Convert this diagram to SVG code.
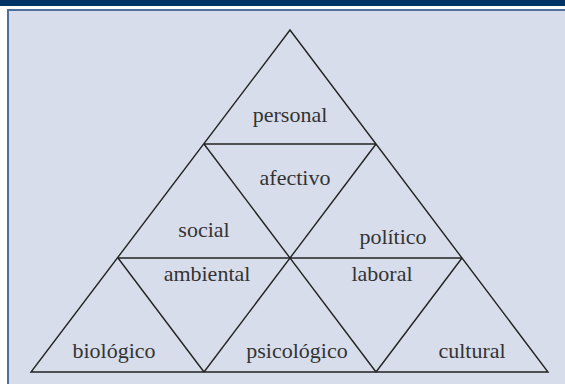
<svg xmlns="http://www.w3.org/2000/svg" width="565" height="384" viewBox="0 0 565 384">
  <style>
    .edge { fill: none; stroke: #222222; stroke-width: 1.4; stroke-linejoin: miter; }
    .label { font-family: "Liberation Serif", "DejaVu Serif", serif; font-size: 22px; fill: #333333; text-anchor: middle; }
  </style>

  <!-- page background, header bar and framed panel -->
  <rect x="0" y="0" width="565" height="384" fill="#ffffff"/>
  <rect x="0" y="0" width="565" height="6" fill="#003366"/>
  <rect x="8" y="10" width="570" height="380" fill="#d7ddeb" stroke="#4f6f9c" stroke-width="2"/>

  <!-- triangle edges -->
  <g id="connectors">
    <polygon class="edge" points="290,30 31,372 548,372"/>
    <line class="edge" x1="204" y1="144" x2="376" y2="144"/>
    <line class="edge" x1="118" y1="258" x2="462" y2="258"/>
    <line class="edge" x1="204" y1="144" x2="376" y2="372"/>
    <line class="edge" x1="376" y1="144" x2="204" y2="372"/>
    <line class="edge" x1="118" y1="258" x2="204" y2="372"/>
    <line class="edge" x1="462" y1="258" x2="376" y2="372"/>
  </g>

  <!-- facets -->
  <g id="personal"><text class="label" x="290" y="122">personal</text></g>
  <g id="afectivo"><text class="label" x="295" y="185">afectivo</text></g>
  <g id="social"><text class="label" x="204" y="237">social</text></g>
  <g id="politico"><text class="label" x="393" y="244">político</text></g>
  <g id="ambiental"><text class="label" x="207" y="281">ambiental</text></g>
  <g id="laboral"><text class="label" x="382" y="281">laboral</text></g>
  <g id="biologico"><text class="label" x="114" y="358">biológico</text></g>
  <g id="psicologico"><text class="label" x="297" y="358">psicológico</text></g>
  <g id="cultural"><text class="label" x="472" y="358">cultural</text></g>
</svg>
